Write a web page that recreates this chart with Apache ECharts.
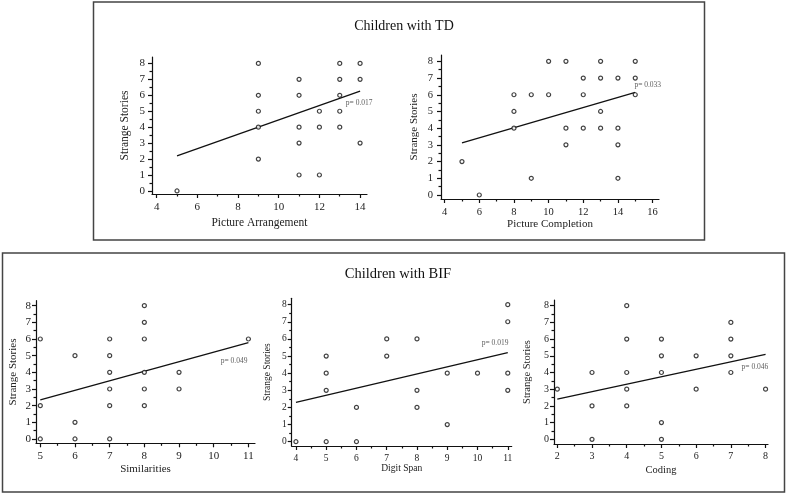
<!DOCTYPE html>
<html><head><meta charset="utf-8">
<script src="https://cdn.jsdelivr.net/npm/echarts@6/dist/echarts.min.js"></script>
<style>html,body{margin:0;padding:0;background:#fff}#c{width:787px;height:495px}</style>
</head><body><div id="c"></div>
<script>
// ---------- DATA ----------
const groupTitles = ['Children with TD', 'Children with BIF'];
const yName = 'Strange Stories';
const ssTicks = [0, 1, 2, 3, 4, 5, 6, 7, 8];
const ssMinor = [0.5, 1.5, 2.5, 3.5, 4.5, 5.5, 6.5, 7.5];

// TD: Picture Arrangement
const tdPaX = [5, 9, 9, 9, 9, 9, 11, 11, 11, 11, 11, 12, 12, 12, 13, 13, 13, 13, 13, 14, 14, 14];
const tdPaY = [0, 8, 6, 5, 4, 2, 7, 6, 4, 3, 1, 5, 4, 1, 8, 7, 6, 5, 4, 8, 7, 3];
const tdPaLine = [[5, 2.2], [14, 6.26]];
const tdPaP = 'p= 0.017';
const tdPaPAt = [13.3, 5.5];
const tdPaTicks = [4, 6, 8, 10, 12, 14];
const tdPaMinor = [5, 7, 9, 11, 13];

// TD: Picture Completion
const tdPcX = [5, 6, 8, 8, 8, 9, 9, 10, 10, 11, 11, 11, 12, 12, 12, 13, 13, 13, 13, 14, 14, 14, 14, 15, 15, 15];
const tdPcY = [2, 0, 6, 5, 4, 6, 1, 8, 6, 8, 4, 3, 7, 6, 4, 8, 7, 5, 4, 7, 4, 3, 1, 8, 7, 6];
const tdPcLine = [[5, 3.12], [15, 6.15]];
const tdPcP = 'p= 0.033';
const tdPcPAt = [14.95, 6.58];
const tdPcTicks = [4, 6, 8, 10, 12, 14, 16];
const tdPcMinor = [5, 7, 9, 11, 13, 15];

// BIF: Similarities
const simX = [5, 5, 5, 6, 6, 6, 7, 7, 7, 7, 7, 7, 8, 8, 8, 8, 8, 8, 9, 9, 11];
const simY = [6, 2, 0, 5, 1, 0, 6, 5, 4, 3, 2, 0, 8, 7, 6, 4, 3, 2, 4, 3, 6];
const simLine = [[5, 2.34], [11, 5.78]];
const simP = 'p= 0.049';
const simPAt = [10.2, 4.68];
const simTicks = [5, 6, 7, 8, 9, 10, 11];
const simMinor = [5.5, 6.5, 7.5, 8.5, 9.5, 10.5];

// BIF: Digit Span
const dsX = [4, 5, 5, 5, 5, 6, 6, 7, 7, 8, 8, 8, 9, 9, 10, 11, 11, 11, 11];
const dsY = [0, 5, 4, 3, 0, 2, 0, 6, 5, 6, 3, 2, 4, 1, 4, 8, 7, 4, 3];
const dsLine = [[4, 2.3], [11, 5.2]];
const dsP = 'p= 0.019';
const dsPAt = [10.14, 5.75];
const dsTicks = [4, 5, 6, 7, 8, 9, 10, 11];
const dsMinor = [4.5, 5.5, 6.5, 7.5, 8.5, 9.5, 10.5];

// BIF: Coding
const codX = [2, 3, 3, 3, 4, 4, 4, 4, 4, 5, 5, 5, 5, 5, 6, 6, 7, 7, 7, 7, 8];
const codY = [3, 4, 2, 0, 8, 6, 4, 3, 2, 6, 5, 4, 1, 0, 5, 3, 7, 6, 5, 4, 3];
const codLine = [[2, 2.41], [8, 5.09]];
const codP = 'p= 0.046';
const codPAt = [7.31, 4.35];
const codTicks = [2, 3, 4, 5, 6, 7, 8];
const codMinor = [2.5, 3.5, 4.5, 5.5, 6.5, 7.5];

// ---------- LAYOUT ----------
const FONT = '"Liberation Serif", "Times New Roman", serif';
const panels = [
  {xName: 'Picture Arrangement', xs: tdPaX, ys: tdPaY, line: tdPaLine, p: tdPaP, pAt: tdPaPAt, xMajor: tdPaTicks, xMinor: tdPaMinor,
   grid: {left: 152, top: 57, width: 215, height: 137}, xMin: 3.77, xMax: 14.34, yMin: -0.19, yMax: 8.4,
   yGap: 21, xGap: 23, fs: 11, nfs: 11.5, xm: 8, ym: 7},
  {xName: 'Picture Completion', xs: tdPcX, ys: tdPcY, line: tdPcLine, p: tdPcP, pAt: tdPcPAt, xMajor: tdPcTicks, xMinor: tdPcMinor,
   grid: {left: 441, top: 55, width: 218, height: 144}, xMin: 3.79, xMax: 16.37, yMin: -0.24, yMax: 8.38,
   yGap: 21, xGap: 19, fs: 10.5, nfs: 11, xm: 8, ym: 8},
  {xName: 'Similarities', xs: simX, ys: simY, line: simLine, p: simP, pAt: simPAt, xMajor: simTicks, xMinor: simMinor,
   grid: {left: 36, top: 300.7, width: 219, height: 142.6}, xMin: 4.876, xMax: 11.19, yMin: -0.26, yMax: 8.3,
   yGap: 17.5, xGap: 20.5, fs: 11, nfs: 11, xm: 7, ym: 5},
  {xName: 'Digit Span', xs: dsX, ys: dsY, line: dsLine, p: dsP, pAt: dsPAt, xMajor: dsTicks, xMinor: dsMinor,
   grid: {left: 291.7, top: 298.3, width: 220, height: 147.7}, xMin: 3.86, xMax: 11.13, yMin: -0.25, yMax: 8.37,
   yGap: 19, xGap: 16, fs: 9.5, nfs: 9.5, xm: 7, ym: 5},
  {xName: 'Coding', xs: codX, ys: codY, line: codLine, p: codP, pAt: codPAt, xMajor: codTicks, xMinor: codMinor,
   grid: {left: 554, top: 300, width: 214, height: 144}, xMin: 1.905, xMax: 8.07, yMin: -0.28, yMax: 8.34,
   yGap: 21.5, xGap: 20.5, fs: 10, nfs: 10.5, xm: 7, ym: 5}
];

const grids = [], xAxes = [], yAxes = [], series = [];
panels.forEach((pn, i) => {
  grids.push(Object.assign({containLabel: false}, pn.grid));
  const lineStyle = {color: '#111', width: 1.2};
  xAxes.push({
    type: 'value', gridIndex: i, position: 'bottom', min: pn.xMin, max: pn.xMax,
    name: pn.xName, nameLocation: 'middle', nameGap: pn.xGap,
    nameTextStyle: {fontFamily: FONT, fontSize: pn.nfs, color: '#222'},
    axisLine: {show: true, onZero: false, lineStyle},
    axisTick: {show: true, inside: false, length: 4, customValues: pn.xMajor, lineStyle},
    axisLabel: {show: true, customValues: pn.xMajor, margin: pn.xm, fontFamily: FONT, fontSize: pn.fs, color: '#222'},
    splitLine: {show: false}
  });
  xAxes.push({
    type: 'value', gridIndex: i, position: 'bottom', min: pn.xMin, max: pn.xMax,
    axisLine: {show: false, onZero: false},
    axisTick: {show: true, inside: false, length: 2.5, customValues: pn.xMinor, lineStyle},
    axisLabel: {show: false}, splitLine: {show: false}
  });
  yAxes.push({
    type: 'value', gridIndex: i, position: 'left', min: pn.yMin, max: pn.yMax,
    name: yName, nameLocation: 'middle', nameGap: pn.yGap, nameRotate: 90,
    nameTextStyle: {fontFamily: FONT, fontSize: pn.nfs, color: '#222'},
    axisLine: {show: true, onZero: false, lineStyle},
    axisTick: {show: true, inside: false, length: 4, customValues: ssTicks, lineStyle},
    axisLabel: {show: true, customValues: ssTicks, margin: pn.ym, fontFamily: FONT, fontSize: pn.fs, color: '#222'},
    splitLine: {show: false}
  });
  yAxes.push({
    type: 'value', gridIndex: i, position: 'left', min: pn.yMin, max: pn.yMax,
    axisLine: {show: false, onZero: false},
    axisTick: {show: true, inside: false, length: 2.5, customValues: ssMinor, lineStyle},
    axisLabel: {show: false}, splitLine: {show: false}
  });
  series.push({
    type: 'line', xAxisIndex: 2 * i, yAxisIndex: 2 * i, data: pn.line,
    symbol: 'none', silent: true, lineStyle: {color: '#111', width: 1.3}, z: 2
  });
  series.push({
    type: 'scatter', xAxisIndex: 2 * i, yAxisIndex: 2 * i,
    data: pn.xs.map((x, k) => [x, pn.ys[k]]),
    symbol: 'circle', symbolSize: 4,
    itemStyle: {color: '#fff', borderColor: '#111', borderWidth: 1.2}, z: 3
  });
  series.push({
    type: 'scatter', xAxisIndex: 2 * i, yAxisIndex: 2 * i,
    data: [pn.pAt], symbolSize: 0, silent: true,
    label: {show: true, position: 'right', distance: 0, formatter: pn.p,
      fontFamily: FONT, fontSize: 7.5, color: '#333'}
  });
});

const chart = echarts.init(document.getElementById('c'), null, {renderer: 'canvas'});
chart.setOption({
  animation: false,
  backgroundColor: '#fff',
  title: [
    {text: groupTitles[0], left: 399, top: 14, textAlign: 'center',
     textStyle: {fontFamily: FONT, fontSize: 14, fontWeight: 'normal', color: '#111'}},
    {text: groupTitles[1], left: 393, top: 262, textAlign: 'center',
     textStyle: {fontFamily: FONT, fontSize: 14.5, fontWeight: 'normal', color: '#111'}}
  ],
  graphic: [
    {type: 'rect', shape: {x: 93.5, y: 2, width: 611, height: 238}, style: {fill: 'none', stroke: '#444', lineWidth: 1.5}, silent: true},
    {type: 'rect', shape: {x: 2.5, y: 253, width: 782, height: 239}, style: {fill: 'none', stroke: '#444', lineWidth: 1.5}, silent: true}
  ],
  grid: grids,
  xAxis: xAxes,
  yAxis: yAxes,
  series: series
});
</script>
</body></html>
